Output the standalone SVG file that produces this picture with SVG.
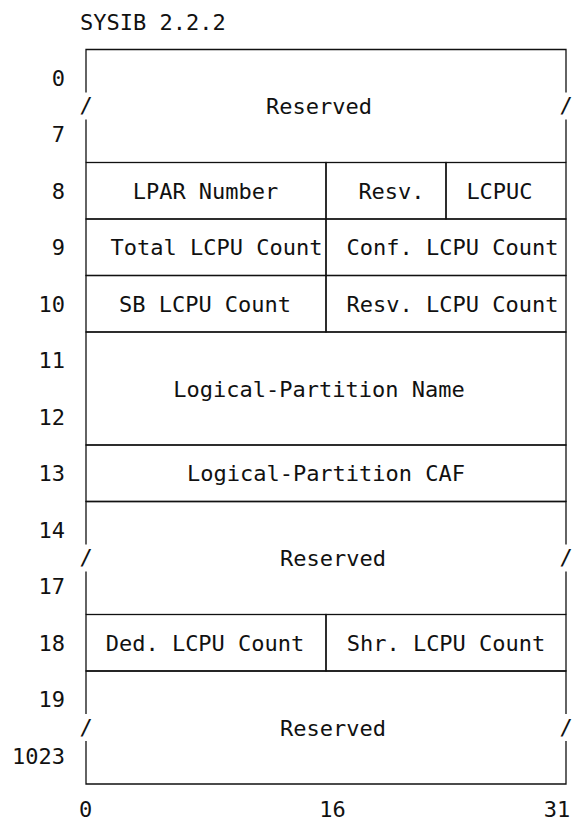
<svg xmlns="http://www.w3.org/2000/svg" width="578" height="822" viewBox="0 0 578 822">
<style>
text{font-family:"DejaVu Sans Mono","Liberation Mono",monospace;font-size:22px;fill:#111}
.c{text-anchor:middle}
.r{text-anchor:end}
.ln{stroke:#111;stroke-width:1.3;fill:none}
</style>
<rect width="578" height="822" fill="#fff"/>
<text id="title" x="80" y="29.5">SYSIB 2.2.2</text>
<g id="bit-labels">
<text class="c" x="85.5" y="817">0</text>
<text class="c" x="332.5" y="817">16</text>
<text class="c" x="557" y="817">31</text>
</g>
<g id="word-labels" class="r">
<text class="r" x="65" y="85.75">0</text>
<text class="r" x="65" y="142.25">7</text>
<text class="r" x="65" y="198.75">8</text>
<text class="r" x="65" y="255.25">9</text>
<text class="r" x="65" y="311.75">10</text>
<text class="r" x="65" y="368.25">11</text>
<text class="r" x="65" y="424.75">12</text>
<text class="r" x="65" y="481.25">13</text>
<text class="r" x="65" y="537.75">14</text>
<text class="r" x="65" y="594.25">17</text>
<text class="r" x="65" y="650.75">18</text>
<text class="r" x="65" y="707.25">19</text>
<text class="r" x="65" y="763.75">1023</text>
</g>
<g id="reserved-0-7">
<path class="ln" d="M86 92.5V49.5H566V92.5M86 119.5V162.5M566 119.5V162.5"/>
<text class="c" x="86" y="113">/</text>
<text class="c" x="566" y="113">/</text>
<text class="c" x="319" y="114">Reserved</text>
</g>
<g id="lpar-number">
<rect class="ln" x="86" y="162.5" width="240" height="56.5"/>
<text class="c" x="205.5" y="198.5">LPAR Number</text>
</g>
<g id="resv-8">
<rect class="ln" x="326" y="162.5" width="120" height="56.5"/>
<text class="c" x="391.5" y="198.5">Resv.</text>
</g>
<g id="lcpuc">
<rect class="ln" x="446" y="162.5" width="120" height="56.5"/>
<text class="c" x="499.5" y="198.5">LCPUC</text>
</g>
<g id="total-lcpu-count">
<rect class="ln" x="86" y="219" width="240" height="56.5"/>
<text class="c" x="216.5" y="255">Total LCPU Count</text>
</g>
<g id="conf-lcpu-count">
<rect class="ln" x="326" y="219" width="240" height="56.5"/>
<text class="c" x="452.5" y="255">Conf. LCPU Count</text>
</g>
<g id="sb-lcpu-count">
<rect class="ln" x="86" y="275.5" width="240" height="56.5"/>
<text class="c" x="205" y="311.5">SB LCPU Count</text>
</g>
<g id="resv-lcpu-count">
<rect class="ln" x="326" y="275.5" width="240" height="56.5"/>
<text class="c" x="452.5" y="311.5">Resv. LCPU Count</text>
</g>
<g id="lp-name">
<rect class="ln" x="86" y="332" width="480" height="113"/>
<text class="c" x="319" y="396.5">Logical-Partition Name</text>
</g>
<g id="lp-caf">
<rect class="ln" x="86" y="445" width="480" height="56.5"/>
<text class="c" x="326" y="481">Logical-Partition CAF</text>
</g>
<g id="reserved-14-17">
<path class="ln" d="M86 544.5V501.5H566V544.5M86 571.5V614.5M566 571.5V614.5"/>
<text class="c" x="86" y="565">/</text>
<text class="c" x="566" y="565">/</text>
<text class="c" x="333" y="566">Reserved</text>
</g>
<g id="ded-lcpu-count">
<rect class="ln" x="86" y="614.5" width="240" height="56.5"/>
<text class="c" x="205" y="650.5">Ded. LCPU Count</text>
</g>
<g id="shr-lcpu-count">
<rect class="ln" x="326" y="614.5" width="240" height="56.5"/>
<text class="c" x="446" y="650.5">Shr. LCPU Count</text>
</g>
<g id="reserved-19-1023">
<path class="ln" d="M86 714V671H566V714M86 741V784H566V741"/>
<text class="c" x="86" y="734.5">/</text>
<text class="c" x="566" y="734.5">/</text>
<text class="c" x="333" y="735.5">Reserved</text>
</g>
<g id="connectors"/>
</svg>
